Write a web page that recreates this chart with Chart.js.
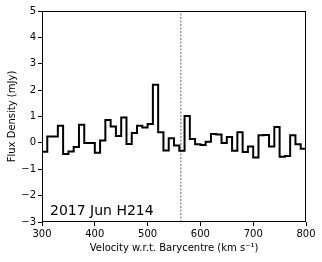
<!DOCTYPE html>
<html><head><meta charset="utf-8">
<script src="https://cdn.jsdelivr.net/npm/chart.js@4/dist/chart.umd.min.js"></script>
<style>html,body{margin:0;padding:0;background:#fff}#c{display:block}</style>
</head><body>
<canvas id="c" width="322" height="262"></canvas>
<script>
const binEdgesStart = 300;
const binWidth = 10;
const fluxValues = [-0.34,0.24,0.24,0.65,-0.42,-0.33,-0.16,0.69,0.0,0.0,
  -0.37,0.09,0.87,0.62,0.26,0.96,-0.04,0.37,0.65,0.58,
  0.72,2.2,0.4,-0.29,0.18,-0.1,-0.3,1.02,0.15,-0.05,
  -0.08,0.04,0.34,0.32,0.0,0.22,-0.3,0.4,-0.35,-0.14,
  -0.55,0.29,0.3,-0.14,0.6,-0.53,-0.5,0.29,-0.05,-0.22];
const markerVelocity = 563;
const xTicks = [300,400,500,600,700,800];
const yTicks = [-3,-2,-1,0,1,2,3,4,5];
const labelText = "2017 Jun H214";

const stepPts = fluxValues.map((v,i)=>({x: binEdgesStart + i*binWidth, y: v}));
stepPts.push({x: binEdgesStart + fluxValues.length*binWidth, y: fluxValues[fluxValues.length-1]});

const FONT = "'DejaVu Sans', sans-serif";
Chart.defaults.font.family = FONT;
Chart.defaults.color = '#000';

const framePlugin = {
  id: 'frame',
  afterDatasetsDraw(chart){
    const {ctx, chartArea:a} = chart;
    ctx.save();
    ctx.strokeStyle = '#000';
    ctx.lineWidth = 1;
    ctx.strokeRect(Math.round(a.left)+0.5, Math.round(a.top)+0.5, Math.round(a.right-a.left)-1, Math.round(a.bottom-a.top)-1);
    ctx.font = "14px " + FONT;
    ctx.fillStyle = '#000';
    ctx.textBaseline = 'alphabetic';
    ctx.textAlign = 'left';
    ctx.fillText(labelText, a.left + 8, a.bottom - 7);
    ctx.restore();
  }
};

new Chart(document.getElementById('c'), {
  type: 'line',
  data: { datasets: [
    { data: stepPts, stepped: 'before', borderColor: '#000', borderWidth: 2, pointRadius: 0, fill: false, order: 1 },
    { data: [{x: markerVelocity, y: -3},{x: markerVelocity, y: 5}], borderColor: '#666', borderWidth: 1, borderDash: [2,1.5], pointRadius: 0, fill: false, order: 2 }
  ]},
  options: {
    responsive: false, animation: false,
    plugins: { legend: {display:false}, tooltip: {enabled:false} },
    layout: { padding: { left: 0, right: 16, top: 11, bottom: 0 } },
    scales: {
      x: {
        type: 'linear', min: 300, max: 800,
        afterBuildTicks: s => { s.ticks = xTicks.map(v=>({value:v})); },
        ticks: { font: {size: 10}, padding: 2, maxRotation: 0, color:'#000' },
        grid: { drawOnChartArea: false, drawTicks: true, tickLength: 4, color: '#000' },
        border: { display: false },
        title: { display: true, text: 'Velocity w.r.t. Barycentre (km s\u207B\u00B9)', font: {size: 10}, padding: {top: 3, bottom: 8}, color:'#000' },
        afterFit: s => { s.height = 40; }
      },
      y: {
        type: 'linear', min: -3, max: 5,
        afterBuildTicks: s => { s.ticks = yTicks.map(v=>({value:v})); },
        ticks: { font: {size: 10}, padding: 2, color:'#000', callback: v => String(v).replace('-', '\u2212') },
        grid: { drawOnChartArea: false, drawTicks: true, tickLength: 4, color: '#000' },
        border: { display: false },
        title: { display: true, text: 'Flux Density (mJy)', font: {size: 10}, padding: {top: 6, bottom: 4}, color:'#000' },
        afterFit: s => { s.width = 42; }
      }
    }
  },
  plugins: [framePlugin]
});
</script>
</body></html>
